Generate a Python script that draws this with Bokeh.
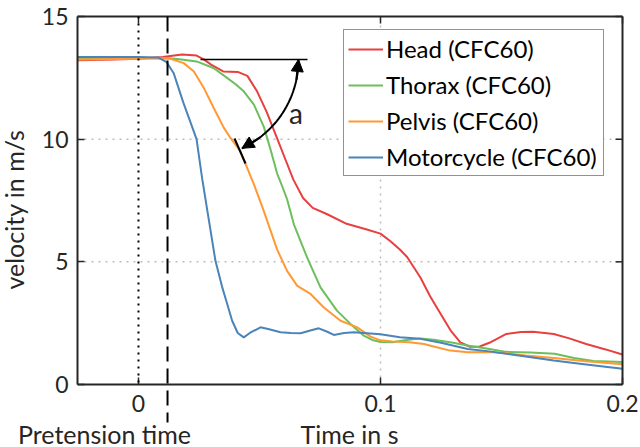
import numpy as np
from bokeh.plotting import figure
from bokeh.models import (Range1d, LinearAxis, FixedTicker, Legend, LegendItem,
                          Arrow, NormalHead, Label)
from bokeh.embed import file_html
from bokeh.resources import INLINE

# ---------------- data ----------------
head_t = [-0.025, -0.01, 0.0, 0.01, 0.018, 0.024, 0.027, 0.030, 0.035, 0.041, 0.045,
          0.049, 0.053, 0.057, 0.061, 0.064, 0.068, 0.072, 0.078, 0.086, 0.094, 0.1,
          0.104, 0.108, 0.111, 0.1165, 0.1205, 0.125, 0.129, 0.133, 0.137, 0.141,
          0.145, 0.152, 0.158, 0.163, 0.1716, 0.178, 0.185, 0.193, 0.2]
head_v = [13.22, 13.25, 13.28, 13.35, 13.45, 13.41, 13.25, 13.04, 12.76, 12.74, 12.58,
          11.95, 11.1, 10.1, 9.1, 8.35, 7.6, 7.2, 6.94, 6.55, 6.33, 6.15,
          5.85, 5.5, 5.2, 4.36, 3.6, 2.85, 2.2, 1.72, 1.54, 1.55,
          1.7, 2.06, 2.14, 2.15, 2.06, 1.88, 1.65, 1.43, 1.22]

thorax_t = [-0.025, 0.0, 0.012, 0.017, 0.024, 0.031, 0.0366, 0.040, 0.0435, 0.0477,
            0.0518, 0.0545, 0.0573, 0.0595, 0.0614, 0.0642, 0.0697, 0.0752, 0.082,
            0.0876, 0.0931, 0.097, 0.1, 0.105, 0.11, 0.1165, 0.122, 0.13, 0.136,
            0.145, 0.152, 0.162, 0.172, 0.18, 0.188, 0.2]
thorax_v = [13.3, 13.3, 13.3, 13.26, 13.17, 12.9, 12.5, 12.25, 11.95, 11.41,
            10.5, 9.6, 8.6, 8.05, 7.55, 6.53, 5.17, 3.96, 3.01,
            2.47, 1.99, 1.8, 1.73, 1.72, 1.8, 1.88, 1.82, 1.7, 1.59,
            1.45, 1.33, 1.3, 1.25, 1.08, 0.96, 0.92]

pelvis_t = [-0.025, 0.0, 0.009, 0.0132, 0.0187, 0.0229, 0.027, 0.0311, 0.0353, 0.038,
            0.0421, 0.0449, 0.0477, 0.0518, 0.0573, 0.0614, 0.0656, 0.0711, 0.0766,
            0.0835, 0.0904, 0.0959, 0.1, 0.105, 0.112, 0.118, 0.1207, 0.128, 0.136,
            0.145, 0.152, 0.16, 0.1716, 0.185, 0.2]
pelvis_v = [13.25, 13.28, 13.3, 13.28, 13.1, 12.76, 12.09, 11.27, 10.46, 10.05,
            9.51, 8.83, 8.16, 7.07, 5.5, 4.63, 4.02, 3.69, 3.14,
            2.6, 2.33, 1.95, 1.8, 1.75, 1.72, 1.65, 1.58, 1.4, 1.31,
            1.32, 1.27, 1.18, 1.08, 0.95, 0.83]

moto_t = [-0.025, 0.0, 0.008, 0.0115, 0.0145, 0.0185, 0.024, 0.0263, 0.029, 0.0318,
          0.0345, 0.0366, 0.0387, 0.041, 0.0435, 0.046, 0.0504, 0.054, 0.0587, 0.063,
          0.067, 0.071, 0.0745, 0.078, 0.0807, 0.085, 0.089, 0.1, 0.108, 0.1165,
          0.125, 0.136, 0.145, 0.152, 0.1716, 0.185, 0.2]
moto_v = [13.35, 13.35, 13.33, 13.15, 12.7, 11.5, 10.0, 8.4, 6.75, 5.04,
          4.0, 3.3, 2.6, 2.1, 1.92, 2.1, 2.33, 2.25, 2.13, 2.1,
          2.09, 2.2, 2.29, 2.15, 2.02, 2.1, 2.13, 2.05, 1.93, 1.86,
          1.7, 1.45, 1.35, 1.25, 0.98, 0.82, 0.64]

series_names = ["Head (CFC60)", "Thorax (CFC60)", "Pelvis (CFC60)", "Motorcycle (CFC60)"]
series_colors = ["#E8403F", "#6CBF5C", "#FF9933", "#4A84B8"]
x_ticks = [0, 0.1, 0.2]
y_ticks = [0, 5, 10, 15]
x_grid = [0.1]
y_grid = [5, 10]
pretension_t = 0.012

FONT = "Lato"
TXT = "#262626"

# axes box: x from X0 to X1, y from Y0 to Y1 (pixel geometry of the reference box)
X0, X1, Y0, Y1 = -0.0252, 0.2, 0.0, 15.0
PX_X = 545 / (X1 - X0)       # pixels per second
PX_Y = 368 / (Y1 - Y0)       # pixels per m/s
TICK = 7                     # inward tick length, px

def sx(px):                  # canvas pixel column -> data x
    return X0 + (px - 77) / PX_X

def sy(py):                  # canvas pixel row -> data y
    return Y0 + (384 - py) / PX_Y

# the frame fills the whole canvas so that texts around the box are not clipped
p = figure(width=640, height=447, output_backend="svg", toolbar_location=None,
           x_range=Range1d(sx(0), sx(640)), y_range=Range1d(sy(447), sy(0)),
           min_border=0, x_axis_location=None, y_axis_location=None)
p.outline_line_color = None
p.background_fill_color = "white"
p.border_fill_color = "white"
p.grid.visible = False

def seg(x0, y0, x1, y1, **kw):
    style = dict(line_color=TXT, line_width=2)
    style.update(kw)
    p.add_layout(Arrow(x_start=x0, y_start=y0, x_end=x1, y_end=y1, end=None, **style))

# dotted grid lines inside the box
for gx in x_grid:
    seg(gx, Y0, gx, Y1, line_color="#bdbdbd", line_dash="2 5", line_width=1.5, level="underlay")
for gy in y_grid:
    seg(X0, gy, X1, gy, line_color="#bdbdbd", line_dash="2 5", line_width=1.5, level="underlay")

def style_axis(ax, ticks):
    ax.ticker = FixedTicker(ticks=ticks)
    ax.axis_line_color = TXT
    ax.axis_line_width = 2
    ax.major_tick_line_color = TXT
    ax.major_tick_line_width = 1.5
    ax.major_tick_in = TICK
    ax.major_tick_out = 0
    ax.minor_tick_line_color = None
    ax.major_label_text_font = FONT
    ax.major_label_text_color = TXT
    ax.major_label_text_font_size = "23px"

xb = LinearAxis(fixed_location=Y0, bounds=(X0, X1))
style_axis(xb, x_ticks)
xb.major_label_standoff = 10
p.add_layout(xb, "below")
yl = LinearAxis(fixed_location=X0, bounds=(Y0, Y1))
style_axis(yl, y_ticks)
yl.major_label_standoff = 9
p.add_layout(yl, "left")

# top and right sides of the box with inward ticks
seg(X0, Y1, X1, Y1)
seg(X1, Y0, X1, Y1)
for tx in x_ticks:
    seg(tx, Y1, tx, Y1 - TICK / PX_Y, line_width=1.5)
for ty in y_ticks:
    seg(X1, ty, X1 - TICK / PX_X, ty, line_width=1.5)

# time markers
seg(0, Y1, 0, Y0, line_color="black", line_dash="2 5")
seg(pretension_t, Y1, pretension_t, sy(422), line_color="black", line_dash="15 7")

renderers = []
for t, v, c in zip([head_t, thorax_t, pelvis_t, moto_t],
                   [head_v, thorax_v, pelvis_v, moto_v], series_colors):
    renderers.append(p.line(t, v, line_color=c, line_width=2))

# angle annotation
xc, yc, rad = sx(200), sy(59), 98.0
seg(xc, yc, sx(307), yc, line_color="black", line_width=1.5)
th = np.radians(np.linspace(0, -65, 60))
p.line(xc + rad * np.cos(th) / PX_X, yc + rad * np.sin(th) / PX_Y,
       line_color="black", line_width=2)
for a0, a1 in ((-12, 0), (-53, -65)):
    t0, t1 = np.radians(a0), np.radians(a1)
    p.add_layout(Arrow(x_start=xc + rad * np.cos(t0) / PX_X, y_start=yc + rad * np.sin(t0) / PX_Y,
                       x_end=xc + rad * np.cos(t1) / PX_X, y_end=yc + rad * np.sin(t1) / PX_Y,
                       end=NormalHead(size=12, fill_color="black", line_color="black"),
                       line_color="black", line_width=2))
seg(sx(234), sy(138), sx(245), sy(163), line_color="black")
p.add_layout(Label(x=sx(295.5), y=sy(112), text="a",
                   text_font=FONT, text_font_size="28px", text_color=TXT,
                   text_align="center", text_baseline="middle"))

# axis titles and the pretension label
p.add_layout(Label(x=sx(349), y=sy(433), text="Time in s", text_font=FONT,
                   text_font_size="25px", text_color=TXT,
                   text_align="center", text_baseline="middle"))
p.add_layout(Label(x=sx(104), y=sy(433), text="Pretension time", text_font=FONT,
                   text_font_size="25px", text_color=TXT,
                   text_align="center", text_baseline="middle"))
p.add_layout(Label(x=sx(13), y=sy(209), angle=np.pi / 2, text="velocity in m/s",
                   text_font=FONT, text_font_size="25px", text_color=TXT,
                   text_align="center", text_baseline="middle"))

legend = Legend(items=[LegendItem(label=n, renderers=[r]) for n, r in zip(series_names, renderers)],
                location=(343, 271))
legend.border_line_color = TXT
legend.border_line_width = 1.5
legend.background_fill_color = "white"
legend.background_fill_alpha = 1
legend.label_text_font = FONT
legend.label_text_font_size = "24px"
legend.label_text_color = "black"
legend.glyph_width = 35
legend.glyph_height = 24
legend.label_height = 24
legend.label_width = 213
legend.label_standoff = 3
legend.spacing = 7
legend.padding = 4
legend.margin = 0
p.add_layout(legend)

open("out.html", "w").write(file_html(p, INLINE))
